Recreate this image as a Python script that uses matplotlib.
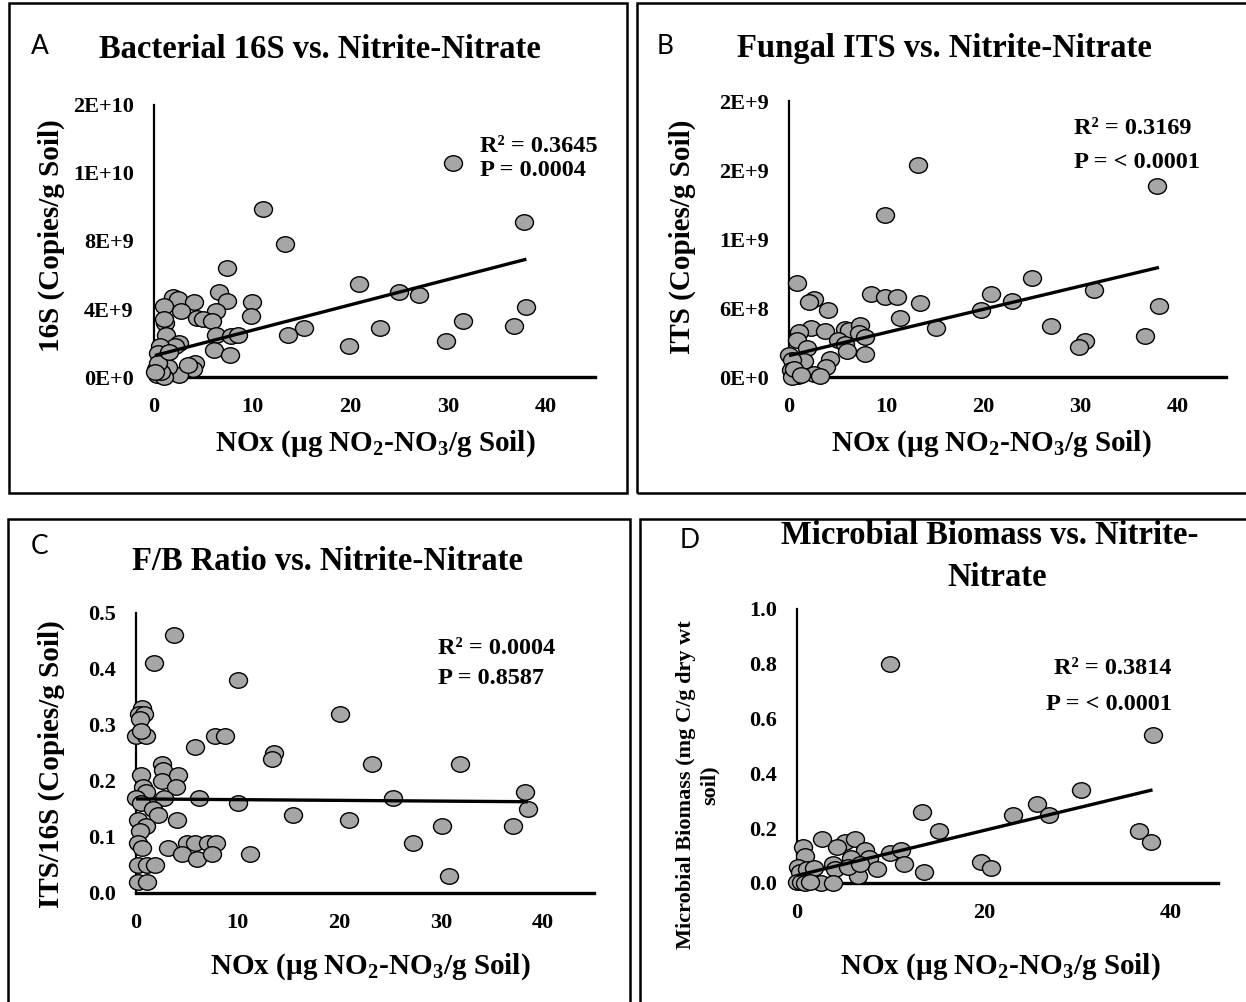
import matplotlib
matplotlib.use("Agg")
import matplotlib.pyplot as plt
from matplotlib.patches import Rectangle
from matplotlib.path import Path
from matplotlib.transforms import Affine2D
import numpy as np

plt.rcParams['font.family'] = ['Liberation Serif', 'DejaVu Serif']
plt.rcParams['mathtext.fontset'] = 'custom'
plt.rcParams['mathtext.rm'] = 'Liberation Serif:bold'
plt.rcParams['mathtext.bf'] = 'Liberation Serif:bold'
plt.rcParams['mathtext.it'] = 'Liberation Serif:bold'
plt.rcParams['mathtext.default'] = 'rm'

# ---------------- data ----------------
# Panel A: 16S (copies/g soil) vs NOx
a_x = [30.5, 11.1, 37.8, 13.4, 7.4, 20.9, 25.0, 27.0, 6.6, 7.4, 1.9, 2.4, 1.0, 4.1, 2.8, 10.0, 9.9, 6.3,
       4.4, 5.0, 5.9, 38.0, 31.5, 36.7, 23.1, 15.3, 13.7, 6.3, 7.9, 8.6, 6.1, 7.8, 19.9, 29.8, 1.1, 1.0,
       1.2, 2.6, 2.1, 0.6, 0.4, 0.8, 4.2, 4.0, 2.6, 1.4, 0.5, 0.2, 0.3, 1.0, 0.7, 0.4, 3.5, 1.5, 0.1]
a_y = [12.6, 9.9, 9.1, 7.8, 6.4, 5.5, 5.0, 4.8, 5.0, 4.5, 4.7, 4.6, 4.2, 4.4, 3.9, 4.4, 3.6, 3.9,
       3.5, 3.4, 3.3, 4.1, 3.3, 3.0, 2.9, 2.9, 2.5, 2.5, 2.4, 2.5, 1.6, 1.3, 1.8, 2.1, 3.2, 3.4,
       2.5, 2.0, 1.8, 1.8, 1.4, 1.0, 0.8, 0.5, 0.1, 0.6, 0.2, 0.5, 0.1, 0.0, 0.3, 0.8, 0.7, 1.5, 0.3]
a_y = [v * 1e9 for v in a_y]
a_fit = (1.25e9, 1.495e8)          # intercept, slope
a_stats = ["R² = 0.3645", "P = 0.0004"]

# Panel B: ITS (copies/g soil) vs NOx
b_x = [13.3, 9.9, 37.9, 0.8, 25.0, 8.4, 9.9, 11.1, 20.8, 31.4, 13.5, 23.0, 19.8, 38.1, 2.6, 2.1, 4.0,
       11.4, 15.1, 27.0, 36.7, 30.5, 29.9, 2.3, 3.7, 1.0, 0.8, 5.8, 6.2, 7.3, 7.2, 7.8, 5.0, 5.8, 6.0,
       7.8, 4.2, 3.8, 1.9, 1.5, 0.0, 0.3, 2.6, 3.2, 0.2, 0.5, 0.9, 0.3, 0.5, 1.2]
b_y = [18.4, 14.1, 16.6, 8.2, 8.6, 7.2, 7.0, 7.0, 7.2, 7.6, 6.4, 6.6, 5.8, 6.2, 6.8, 6.5, 5.8,
       5.1, 4.3, 4.4, 3.6, 3.1, 2.6, 4.3, 4.0, 3.9, 3.2, 4.2, 4.1, 4.5, 3.8, 3.5, 3.2, 2.9, 2.3,
       2.0, 1.6, 0.9, 2.5, 1.4, 1.9, 1.5, 0.3, 0.1, 0.6, 0.4, 0.1, 0.0, 0.7, 0.2]
b_y = [v * 1e8 for v in b_y]
b_fit = (1.86e8, 2.013e7)
b_stats = ["R² = 0.3169", "P = < 0.0001"]

# Panel C: ITS/16S vs NOx
c_x = [3.7, 1.8, 10.0, 20.0, 0.6, 0.3, 0.8, 0.4, 0.0, 1.0, 0.5, 7.8, 8.7, 5.8, 13.6, 13.4, 23.2, 31.8,
       2.6, 2.7, 2.6, 4.1, 3.9, 0.5, 0.7, 1.0, 0.0, 0.5, 2.8, 6.2, 10.0, 25.3, 38.2, 38.5, 15.4, 20.9,
       1.7, 2.2, 4.0, 0.2, 1.0, 0.4, 30.1, 37.0, 0.2, 0.6, 3.1, 27.2, 5.0, 5.8, 7.1, 7.9, 4.5, 6.0,
       7.5, 11.2, 0.2, 1.1, 1.9, 30.8, 0.2, 1.1]
c_y = [0.46, 0.41, 0.38, 0.32, 0.33, 0.32, 0.32, 0.31, 0.28, 0.28, 0.29, 0.28, 0.28, 0.26, 0.25, 0.24,
       0.23, 0.23, 0.23, 0.22, 0.20, 0.21, 0.19, 0.21, 0.19, 0.18, 0.17, 0.16, 0.17, 0.17, 0.16, 0.17,
       0.18, 0.15, 0.14, 0.13, 0.15, 0.14, 0.13, 0.13, 0.12, 0.11, 0.12, 0.12, 0.09, 0.08, 0.08, 0.09,
       0.09, 0.09, 0.09, 0.09, 0.07, 0.06, 0.07, 0.07, 0.05, 0.05, 0.05, 0.03, 0.02, 0.02]
c_fit = (0.168, -1.3e-4)
c_stats = ["R² = 0.0004", "P = 0.8587"]

# Panel D: microbial biomass vs NOx
d_x = [9.9, 38.0, 30.4, 25.6, 23.1, 26.9, 13.4, 15.2, 36.6, 37.8, 2.7, 5.1, 6.2, 0.6, 4.3, 7.3, 9.9,
       11.1, 5.8, 0.9, 7.7, 11.4, 19.7, 20.7, 13.6, 8.6, 3.8, 4.1, 0.1, 0.3, 1.1, 1.8, 6.5, 2.6, 3.9,
       0.0, 0.4, 0.9, 1.4, 5.5, 6.7]
d_y = [0.80, 0.54, 0.34, 0.29, 0.25, 0.25, 0.26, 0.19, 0.19, 0.15, 0.16, 0.15, 0.16, 0.13, 0.13, 0.12,
       0.11, 0.12, 0.09, 0.10, 0.09, 0.07, 0.075, 0.055, 0.04, 0.05, 0.07, 0.05, 0.06, 0.04, 0.05, 0.055,
       0.025, 0.0, 0.0, 0.005, 0.005, 0.0, 0.005, 0.06, 0.07]
d_fit = (0.0275, 0.00822)
d_stats = ["R² = 0.3814", "P = < 0.0001"]

a_yticks = [0, 4e9, 8e9, 1.2e10, 1.6e10]
a_yticklabels = ['0E+0', '4E+9', '8E+9', '1E+10', '2E+10']
b_yticks = [0, 6e8, 1.2e9, 1.8e9, 2.4e9]
b_yticklabels = ['0E+0', '6E+8', '1E+9', '2E+9', '2E+9']
c_yticks = [0, 0.1, 0.2, 0.3, 0.4, 0.5]
c_yticklabels = ['0.0', '0.1', '0.2', '0.3', '0.4', '0.5']
d_yticks = [0, 0.2, 0.4, 0.6, 0.8, 1.0]
d_yticklabels = ['0.0', '0.2', '0.4', '0.6', '0.8', '1.0']
xticks_abc = [0, 10, 20, 30, 40]
xticks_d = [0, 20, 40]

# ---------------- layout ----------------
W, H = 1246, 1002
fig = plt.figure(figsize=(W / 100, H / 100), dpi=100)
fig.patch.set_facecolor('white')

def fx(x):
    return x / W

def fy(y):
    return 1 - y / H

def ftext(x, y, s, **kw):
    fig.text(fx(x), fy(y), s, **kw)

# panel frames
for (x0, y0, x1, y1) in [(9, 3, 627, 493), (637, 3, 1250, 493), (8, 519, 630, 1010), (640, 519, 1250, 1010)]:
    fig.patches.append(Rectangle((fx(x0), fy(y1)), fx(x1 - x0), (y1 - y0) / H, transform=fig.transFigure,
                                 fill=False, edgecolor='black', linewidth=1.8))

# slightly wide elliptical marker (as in the reference)
ellipse = Path.unit_circle().transformed(Affine2D().scale(1.0, 15.5 / 18.0))
MS = (18 * 0.72) ** 2

XLABEL = 'NOx (µg NO$_2$-NO$_3$/g Soil)'
TICKFS = 16

def panel(box, x, y, fit, yt, ytl, xt, ylim, stats, stat_pos, stat_ha='left'):
    left, top, right, bottom = box
    ax = fig.add_axes([fx(left), fy(bottom), (right - left) / W, (bottom - top) / H])
    ax.set_facecolor('none')
    ax.scatter(x, y, s=MS, marker=ellipse, facecolor='#a6a6a6', edgecolor='black', linewidth=1.0,
               zorder=3, clip_on=False)
    xs = np.array([min(x), max(x)])
    ax.plot(xs, fit[0] + fit[1] * xs, color='black', linewidth=2.4, zorder=4, solid_capstyle='butt')
    ax.set_xlim(0, 45)
    ax.set_ylim(*ylim)
    ax.set_yticks(yt)
    ax.set_yticklabels(ytl)
    ax.set_xticks(xt)
    ax.set_xticklabels([str(v) for v in xt])
    for s in ['top', 'right']:
        ax.spines[s].set_visible(False)
    ax.spines['left'].set_linewidth(1.6)
    ax.spines['bottom'].set_linewidth(2.4)
    ax.tick_params(axis='both', length=0, labelsize=TICKFS)
    ax.tick_params(axis='y', pad=14.5)
    ax.tick_params(axis='x', pad=14.5)
    for lab in ax.get_xticklabels() + ax.get_yticklabels():
        lab.set_fontweight('bold')
    sx, sy1, sy2 = stat_pos
    ftext(sx, sy1, stats[0], ha=stat_ha, va='center', fontsize=17.5, fontweight='bold')
    ftext(sx, sy2, stats[1], ha=stat_ha, va='center', fontsize=17.5, fontweight='bold')
    return ax

panel((154, 105, 595, 377), a_x, a_y, a_fit, a_yticks, a_yticklabels, xticks_abc, (0, 1.6e10),
      a_stats, (480, 147, 171))
panel((789, 101, 1226, 377), b_x, b_y, b_fit, b_yticks, b_yticklabels, xticks_abc, (0, 2.4e9),
      b_stats, (1074, 128, 162))
panel((136, 613, 594, 893), c_x, c_y, c_fit, c_yticks, c_yticklabels, xticks_abc, (0, 0.5),
      c_stats, (438, 648, 678))
panel((797, 609, 1218, 883), d_x, d_y, d_fit, d_yticks, d_yticklabels, xticks_d, (0, 1.0),
      d_stats, (1172, 669, 705), stat_ha='right')

# titles
TFS = 23.5
ftext(320, 49, 'Bacterial 16S vs. Nitrite-Nitrate', ha='center', va='center', fontsize=TFS, fontweight='bold')
ftext(944, 49, 'Fungal ITS vs. Nitrite-Nitrate', ha='center', va='center', fontsize=TFS, fontweight='bold')
ftext(328, 561, 'F/B Ratio vs. Nitrite-Nitrate', ha='center', va='center', fontsize=TFS, fontweight='bold')
ftext(990, 535, 'Microbial Biomass vs. Nitrite-', ha='center', va='center', fontsize=TFS, fontweight='bold')
ftext(997, 577, 'Nitrate', ha='center', va='center', fontsize=TFS, fontweight='bold')

# panel letters
LFS = 19
for (x, y, s) in [(40, 47, 'A'), (665, 46, 'B'), (40, 546, 'C'), (690, 541, 'D')]:
    ftext(x, y, s, ha='center', va='center', fontsize=LFS, family=['Liberation Sans Narrow', 'Lato', 'DejaVu Sans'])

# axis labels
AFS = 21
ftext(375, 444, XLABEL, ha='center', va='center', fontsize=AFS, fontweight='bold')
ftext(991, 444, XLABEL, ha='center', va='center', fontsize=AFS, fontweight='bold')
ftext(370, 967, XLABEL, ha='center', va='center', fontsize=AFS, fontweight='bold')
ftext(1000, 967, XLABEL, ha='center', va='center', fontsize=AFS, fontweight='bold')
ftext(51, 236, '16S (Copies/g Soil)', ha='center', va='center', rotation=90, fontsize=AFS, fontweight='bold')
ftext(682, 237, 'ITS (Copies/g Soil)', ha='center', va='center', rotation=90, fontsize=AFS, fontweight='bold')
ftext(51, 764, 'ITS/16S (Copies/g Soil)', ha='center', va='center', rotation=90, fontsize=AFS, fontweight='bold')
ftext(698, 785, 'Microbial Biomass (mg C/g dry wt\nsoil)', ha='center', va='center', rotation=90,
      fontsize=16, fontweight='bold', multialignment='center', linespacing=1.25)

fig.savefig('out.png', dpi=100)
